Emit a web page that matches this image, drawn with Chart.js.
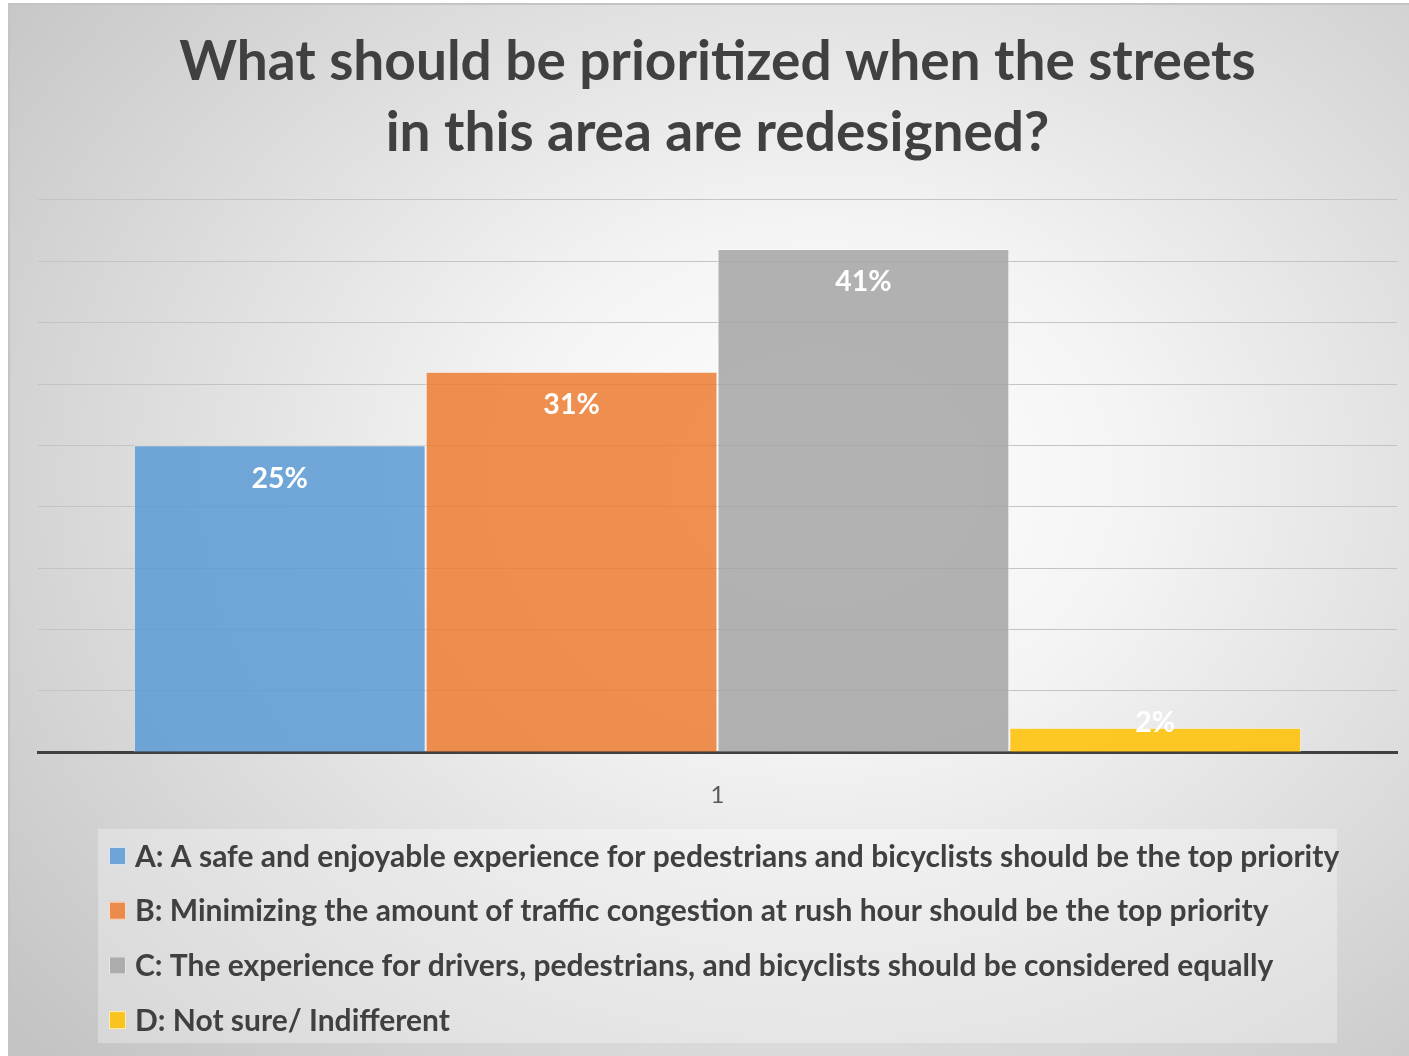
<!DOCTYPE html>
<html>
<head>
<meta charset="utf-8">
<script src="https://cdn.jsdelivr.net/npm/chart.js@4"></script>
<style>
    body { margin: 0; background: #ffffff; }
    #wrap {
        position: absolute; left: 8px; top: 3px; width: 1401px; height: 1053px;
        border-left: 2px solid #c4c4c4; border-top: 2px solid #c4c4c4; box-sizing: border-box;
        background: radial-gradient(ellipse 75% 80% at 58% 45%, #ffffff 0%, #f4f4f4 30%, #dcdcdc 65%, #c4c4c4 100%);
    }
    canvas { display: block; }
</style>
</head>
<body>
<div id="wrap"><canvas id="chart"></canvas></div>
<script>
// Chart data
const titleLines = ['What should be prioritized when the streets', 'in this area are redesigned?'];
const categories = ['1'];
const seriesNames = [
    'A: A safe and enjoyable experience for pedestrians and bicyclists should be the top priority',
    'B: Minimizing the amount of traffic congestion at rush hour should be the top priority',
    'C: The experience for drivers, pedestrians, and bicyclists should be considered equally',
    'D: Not sure/ Indifferent'
];
const seriesValues = [25, 31, 41, 2];
const seriesColors = ['rgba(91,155,213,0.85)', 'rgba(237,125,49,0.85)', 'rgba(165,165,165,0.85)', 'rgba(255,192,0,0.85)'];
const FONT = 'Lato';

// white percentage labels just inside the bar tops
const barLabels = {
    id: 'barLabels',
    afterDatasetsDraw(chart) {
        const ctx = chart.ctx;
        const base = chart.scales.y.getPixelForValue(0);
        ctx.save();
        ctx.fillStyle = '#ffffff';
        ctx.font = 'bold 28.5px ' + FONT;
        ctx.textAlign = 'center';
        ctx.textBaseline = 'middle';
        chart.data.datasets.forEach((ds, i) => {
            const bar = chart.getDatasetMeta(i).data[0];
            const y = Math.min(bar.y + 33, base - 29);
            ctx.fillText(ds.data[0] + '%', bar.x, y);
        });
        ctx.restore();
    }
};

// legend drawn as a boxed list under the axis
const boxLegend = {
    id: 'boxLegend',
    afterDraw(chart) {
        const ctx = chart.ctx;
        ctx.save();
        ctx.fillStyle = 'rgba(255,255,255,0.3)';
        ctx.fillRect(88, 824, 1239, 214);
        ctx.font = 'bold 30px ' + FONT;
        ctx.textBaseline = 'middle';
        chart.data.datasets.forEach((ds, i) => {
            const cy = 851 + i * 54.7;
            ctx.fillStyle = ds.backgroundColor;
            ctx.fillRect(99, cy - 9, 17, 18);
            ctx.strokeStyle = 'rgba(255,255,255,0.7)';
            ctx.lineWidth = 1;
            ctx.strokeRect(99.5, cy - 8.5, 16, 17);
            ctx.fillStyle = '#404040';
            ctx.fillText(ds.label, 125, cy + 1);
        });
        ctx.restore();
    }
};

const canvas = document.getElementById('chart');
canvas.width = 1399;
canvas.height = 1051;

new Chart(canvas, {
    type: 'bar',
    data: {
        labels: categories,
        datasets: seriesNames.map((name, i) => ({
            label: name,
            data: [seriesValues[i]],
            backgroundColor: seriesColors[i],
            borderColor: 'rgba(255,255,255,0.6)',
            borderWidth: 1,
            barPercentage: 1,
            categoryPercentage: 0.859
        }))
    },
    options: {
        responsive: false,
        animation: false,
        layout: { padding: { left: 28, right: 12, top: 0, bottom: 225 } },
        plugins: {
            legend: { display: false },
            tooltip: { enabled: false },
            title: {
                display: true,
                text: titleLines,
                color: '#404040',
                font: { family: FONT, size: 55, weight: 'bold', lineHeight: 1.29 },
                padding: { top: 22, bottom: 31 }
            }
        },
        scales: {
            x: {
                grid: { display: false },
                border: { display: true, color: '#404040', width: 3 },
                ticks: { color: '#595959', font: { family: FONT, size: 24 }, padding: 21 }
            },
            y: {
                min: 0, max: 45,
                ticks: { display: false, stepSize: 5 },
                border: { display: false },
                grid: { color: '#c4c4c4', lineWidth: 1, drawTicks: false }
            }
        }
    },
    plugins: [barLabels, boxLegend]
});
</script>
</body>
</html>
